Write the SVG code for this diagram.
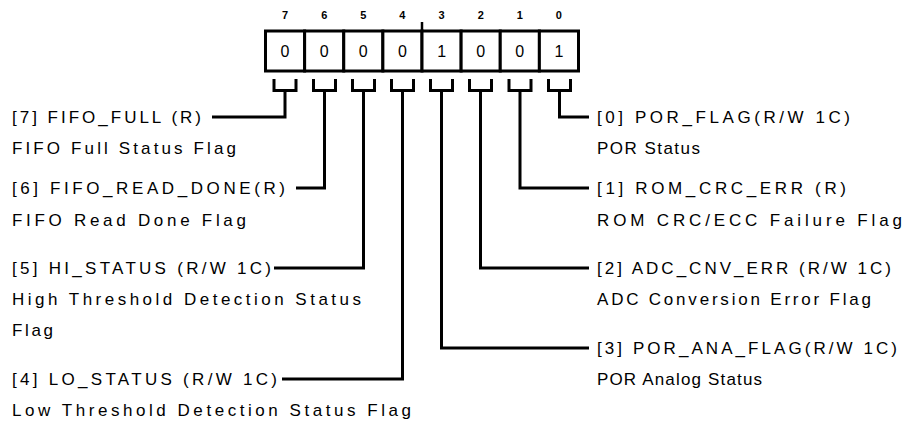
<svg xmlns="http://www.w3.org/2000/svg" width="916" height="425" viewBox="0 0 916 425">
<style>
  .cell { fill: #fff; stroke: #000; stroke-width: 3; }
  .bitno { font-family: "Liberation Sans", Arial, sans-serif; font-size: 11px; font-weight: bold; text-anchor: middle; fill: #000; }
  .val { font-family: "Liberation Sans", Arial, sans-serif; font-size: 16px; text-anchor: middle; fill: #000; }
  .lbl { font-family: "Liberation Sans", Arial, sans-serif; font-size: 17px; fill: #000; }
  .wire { fill: none; stroke: #000; stroke-width: 3; stroke-linejoin: miter; stroke-linecap: butt; }
</style>
<rect width="916" height="425" fill="#fff"/>

<g id="register">
  <g id="bit7"><rect class="cell" x="265.5" y="31" width="39.125" height="40"/><text class="bitno" x="285" y="19">7</text><text class="val" x="285" y="57">0</text></g>
  <g id="bit6"><rect class="cell" x="304.625" y="31" width="39.125" height="40"/><text class="bitno" x="324.2" y="19">6</text><text class="val" x="324.2" y="57">0</text></g>
  <g id="bit5"><rect class="cell" x="343.75" y="31" width="39.125" height="40"/><text class="bitno" x="363.3" y="19">5</text><text class="val" x="363.3" y="57">0</text></g>
  <g id="bit4"><rect class="cell" x="382.875" y="31" width="39.125" height="40"/><text class="bitno" x="402.4" y="19">4</text><text class="val" x="402.4" y="57">0</text></g>
  <g id="bit3"><rect class="cell" x="422" y="31" width="39.125" height="40"/><text class="bitno" x="441.6" y="19">3</text><text class="val" x="441.6" y="57">1</text></g>
  <g id="bit2"><rect class="cell" x="461.125" y="31" width="39.125" height="40"/><text class="bitno" x="480.7" y="19">2</text><text class="val" x="480.7" y="57">0</text></g>
  <g id="bit1"><rect class="cell" x="500.25" y="31" width="39.125" height="40"/><text class="bitno" x="519.8" y="19">1</text><text class="val" x="519.8" y="57">0</text></g>
  <g id="bit0"><rect class="cell" x="539.375" y="31" width="39.125" height="40"/><text class="bitno" x="558.9" y="19">0</text><text class="val" x="558.9" y="57">1</text></g>
  <line x1="422" y1="22" x2="422" y2="31" stroke="#000" stroke-width="2.5"/>
</g>

<g id="connectors">
  <path class="wire" d="M274,79 V90.5 H296 V79 M285,90.5 V117 H212"/>
  <path class="wire" d="M313.5,79 V90.5 H335.5 V79 M324.5,90.5 V188 H296"/>
  <path class="wire" d="M352.5,79 V90.5 H374.5 V79 M363.5,90.5 V268 H274"/>
  <path class="wire" d="M391.5,79 V90.5 H413.5 V79 M402.5,90.5 V379 H282"/>
  <path class="wire" d="M430.5,79 V90.5 H452.5 V79 M441.5,90.5 V348 H589"/>
  <path class="wire" d="M469.5,79 V90.5 H491.5 V79 M480.5,90.5 V268 H589"/>
  <path class="wire" d="M509,79 V90.5 H531 V79 M520,90.5 V188 H589"/>
  <path class="wire" d="M548.5,79 V90.5 H570.5 V79 M559.5,90.5 V117 H589"/>
</g>

<g id="field7"><text class="lbl" x="12" y="123" textLength="189">[7] FIFO_FULL (R)</text><text class="lbl" x="12" y="154" textLength="224">FIFO Full Status Flag</text></g>
<g id="field6"><text class="lbl" x="12" y="194" textLength="273">[6] FIFO_READ_DONE(R)</text><text class="lbl" x="12" y="226" textLength="234">FIFO Read Done Flag</text></g>
<g id="field5"><text class="lbl" x="12" y="274" textLength="259">[5] HI_STATUS (R/W 1C)</text><text class="lbl" x="12" y="305" textLength="349">High Threshold Detection Status</text><text class="lbl" x="12" y="336" textLength="41">Flag</text></g>
<g id="field4"><text class="lbl" x="12" y="385" textLength="265">[4] LO_STATUS (R/W 1C)</text><text class="lbl" x="12" y="416" textLength="399">Low Threshold Detection Status Flag</text></g>

<g id="field0"><text class="lbl" x="597" y="123" textLength="253">[0] POR_FLAG(R/W 1C)</text><text class="lbl" x="597" y="154" textLength="103">POR Status</text></g>
<g id="field1"><text class="lbl" x="597" y="194" textLength="249">[1] ROM_CRC_ERR (R)</text><text class="lbl" x="597" y="226" textLength="305">ROM CRC/ECC Failure Flag</text></g>
<g id="field2"><text class="lbl" x="597" y="274" textLength="294">[2] ADC_CNV_ERR (R/W 1C)</text><text class="lbl" x="597" y="305" textLength="274">ADC Conversion Error Flag</text></g>
<g id="field3"><text class="lbl" x="597" y="354" textLength="300">[3] POR_ANA_FLAG(R/W 1C)</text><text class="lbl" x="597" y="385" textLength="165">POR Analog Status</text></g>
</svg>
